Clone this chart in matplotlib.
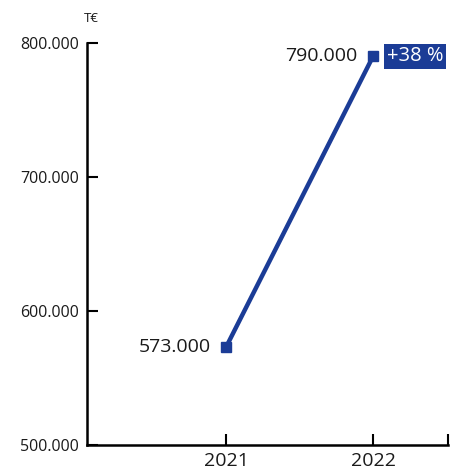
import matplotlib
matplotlib.use("Agg")
import matplotlib.pyplot as plt

# Revenue in thousand euros
years = ["2021", "2022"]
values = [573000, 790000]
y_ticks = [500000, 600000, 700000, 800000]
y_tick_labels = ["500.000", "600.000", "700.000", "800.000"]
change_label = "+38 %"
unit_label = "T€"

line_color = "#1b3c96"
text_color = "#1a1a1a"

plt.rcParams["font.family"] = ["Open Sans", "DejaVu Sans"]

fig = plt.figure(figsize=(4.59, 4.71), dpi=100)
ax = fig.add_axes([0.1895, 0.0552, 0.7865, 0.8535])

x = list(range(len(years)))
ax.plot(x, values, color=line_color, linewidth=3.2, marker="s",
        markersize=7.5, solid_capstyle="butt", zorder=3)

ax.set_xlim(-0.946, 1.51)
ax.set_ylim(500000, 800000)

ax.set_yticks(y_ticks)
ax.set_yticklabels(y_tick_labels, fontsize=11.5, color=text_color)
ax.set_xticks(x + [1.51])
ax.set_xticklabels(years + [""], fontsize=14, color=text_color)

ax.tick_params(axis="y", direction="in", length=8, width=1.5, pad=6)
ax.tick_params(axis="x", direction="in", length=8, width=1.5, pad=5)

for side in ("top", "right"):
    ax.spines[side].set_visible(False)
for side in ("left", "bottom"):
    ax.spines[side].set_linewidth(1.8)

# value labels
for xi, v in zip(x, values):
    ax.annotate(f"{v:,}".replace(",", "."), (xi, v),
                xytext=(-11, 0), textcoords="offset points",
                ha="right", va="center", fontsize=14, color=text_color)
ax.annotate(change_label, (x[1], values[1]),
            xytext=(10, 0), textcoords="offset points",
            ha="left", va="center", fontsize=14.5, color="white",
            bbox=dict(boxstyle="square,pad=0.12", fc=line_color, ec="none"),
            annotation_clip=False)

# unit label above the y axis
ax.text(0.012, 1.045, unit_label, transform=ax.transAxes, ha="center",
        va="bottom", fontsize=9.5, color=text_color)

fig.savefig("out.png", dpi=100)
